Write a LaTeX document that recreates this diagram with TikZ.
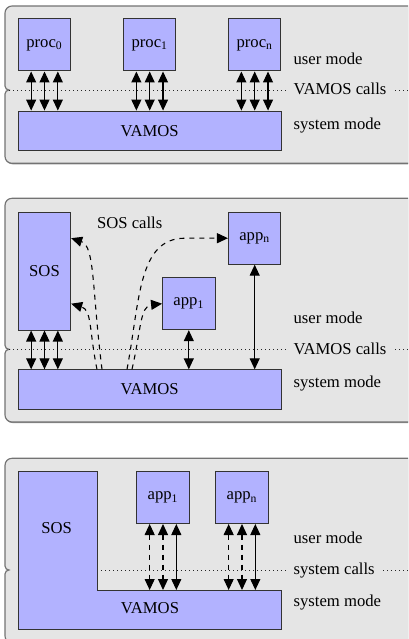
\documentclass[tikz,border=0pt]{standalone}
\usepackage{fontspec}
\setmainfont{Liberation Serif}
\usetikzlibrary{arrows.meta,calc}
\begin{document}
\begin{tikzpicture}[x=0.6pt,y=-0.6pt,
  font=\rmfamily\fontsize{10}{12}\selectfont,
  box/.style={draw=black!80, fill=blue!30, line width=0.6pt, inner sep=0pt, text=black},
  sq/.style={box, minimum width=31.5pt, minimum height=31.2pt},
  lab/.style={inner sep=0pt, anchor=base west, text=black},
  txt/.style={inner sep=0pt, text=black},
  panel/.style={fill=black!10, draw=black!55, line width=0.7pt},
  pshadow/.style={fill=black!45},
  dbl/.style={{Triangle[length=6.6pt,width=6pt]}-{Triangle[length=6.6pt,width=6pt]}, line width=0.65pt, draw=black},
  sarr/.style={-{Triangle[length=6.6pt,width=6pt]}, dashed, line width=0.65pt, draw=black},
  dots/.style={line width=0.5pt, dash pattern=on 0.5pt off 1.9pt, draw=black!85}]

\useasboundingbox (0,0) rectangle (408,639);

% three grey panels, each split into user / system half by a notch
\begin{scope}
\clip (0,0) rectangle (408,639);
\foreach \T/\N/\B in {6/90/163.3, 198.3/349.3/422, 458.3/570/643}{
  \fill[pshadow, xshift=0.3pt, yshift=-0.6pt]
    (420,\T) -- (12,\T) .. controls (8.1,\T) and (5,\T+3.1) .. (5,\T+7)
    -- (5,\N-4) .. controls (5,\N-1.8) and (6.8,\N) .. (9,\N)
    .. controls (6.8,\N) and (5,\N+1.8) .. (5,\N+4)
    -- (5,\B-7) .. controls (5,\B-3.1) and (8.1,\B) .. (12,\B) -- (420,\B) -- cycle;
  \draw[panel]
    (420,\T) -- (12,\T) .. controls (8.1,\T) and (5,\T+3.1) .. (5,\T+7)
    -- (5,\N-4) .. controls (5,\N-1.8) and (6.8,\N) .. (9,\N)
    .. controls (6.8,\N) and (5,\N+1.8) .. (5,\N+4)
    -- (5,\B-7) .. controls (5,\B-3.1) and (8.1,\B) .. (12,\B) -- (420,\B) -- cycle;
}
\end{scope}

% ---------- panel 1: processes on VAMOS ----------
\coordinate (n1) at (9,90);
\coordinate (e1) at (408,90);
\node[lab] (um1) at (293.3,65) {user mode};
\node[lab] (vc1) at (293.3,95) {VAMOS calls};
\node[lab] (sm1) at (293.3,129.5) {system mode};
\draw[dots] (n1) -- ($(vc1.west |- n1)+(-3.2pt,0)$);
\draw[dots] ($(vc1.east |- e1)+(5pt,0)$) -- (e1);

\node[sq] (p0) at (44.5,45) {proc\textsubscript{0}};
\node[sq] (p1) at (149.7,45) {proc\textsubscript{1}};
\node[sq] (pn) at (254.7,45) {proc\textsubscript{n}};
\node[box, minimum width=157.6pt, minimum height=23.8pt] (v1) at (149.7,130.9) {VAMOS};
\foreach \b in {p0,p1,pn}
  \foreach \s in {-8pt,0pt,8pt}
    \draw[dbl] ($(\b.south)+(\s,0)$) -- ($(\b.south |- v1.north)+(\s,0)$);

% ---------- panel 2: SOS and applications on VAMOS ----------
\coordinate (n2) at (9,349.3);
\coordinate (e2) at (408,349.3);
\node[lab] (um2) at (293.3,323.3) {user mode};
\node[lab] (vc2) at (293.3,354.5) {VAMOS calls};
\node[lab] (sm2) at (293.3,387) {system mode};
\draw[dots] (n2) -- ($(vc2.west |- n2)+(-3.2pt,0)$);
\draw[dots] ($(vc2.east |- e2)+(5pt,0)$) -- (e2);

\node[box, minimum width=31.4pt, minimum height=70.6pt] (sos) at (44.5,271.2) {SOS};
\node[sq] (an) at (254.7,238.2) {app\textsubscript{n}};
\node[sq] (a1) at (188.8,303.7) {app\textsubscript{1}};
\node[box, minimum width=157.6pt, minimum height=23.6pt] (v2) at (149.7,389.5) {VAMOS};
\node[txt] (sc) at (129.7,222.3) {SOS calls};

\foreach \s in {-8pt,0pt,8pt}
  \draw[dbl] ($(sos.south)+(\s,0)$) -- ($(sos.south |- v2.north)+(\s,0)$);
\draw[dbl] (a1.south) -- (a1.south |- v2.north);
\draw[dbl] (an.south) -- (an.south |- v2.north);

% SOS calls routed through VAMOS
\draw[sarr] (102,0 |- v2.north) .. controls (92,290) and (95,246) .. (sos.east |- an.west);
\draw[sarr] (97,0 |- v2.north) .. controls (89,330) and (92,310) .. (sos.east |- a1.west);
\draw[sarr] (132,0 |- v2.north) .. controls (141,330) and (140,306) .. (a1.west);
\draw[sarr] (127,0 |- v2.north) .. controls (140,300) and (138,238.2) .. (185,238.2) -- (an.west);

% ---------- panel 3: SOS merged with VAMOS ----------
\coordinate (n3) at (97.3,570);
\coordinate (e3) at (408,570);
\coordinate (l3) at (97.3,590);
\node[lab] (um3) at (293.3,543.3) {user mode};
\node[lab] (vc3) at (293.3,574) {system calls};
\node[lab] (sm3) at (293.3,606.7) {system mode};
\draw[dots] (n3) -- ($(vc3.west |- n3)+(-3.2pt,0)$);
\draw[dots] ($(vc3.east |- e3)+(5pt,0)$) -- (e3);

\draw[box] (18.3,471.7) -- (97.3,471.7) -- (l3) -- (281,590) -- (281,629.3) -- (18.3,629.3) -- cycle;
\node[txt] (sos3) at (56.7,528.3) {SOS};
\node[txt] (v3) at (150,608.3) {VAMOS};

\node[sq] (b1) at (163,497.5) {app\textsubscript{1}};
\node[sq] (bn) at (242,497.5) {app\textsubscript{n}};
\foreach \b in {b1,bn}{
  \draw[dbl, dashed] ($(\b.south)+(-8pt,0)$) -- ($(\b.south |- l3)+(-8pt,0)$);
  \draw[dbl, dashed] (\b.south) -- (\b.south |- l3);
  \draw[dbl] ($(\b.south)+(8pt,0)$) -- ($(\b.south |- l3)+(8pt,0)$);
}
\end{tikzpicture}
\end{document}
